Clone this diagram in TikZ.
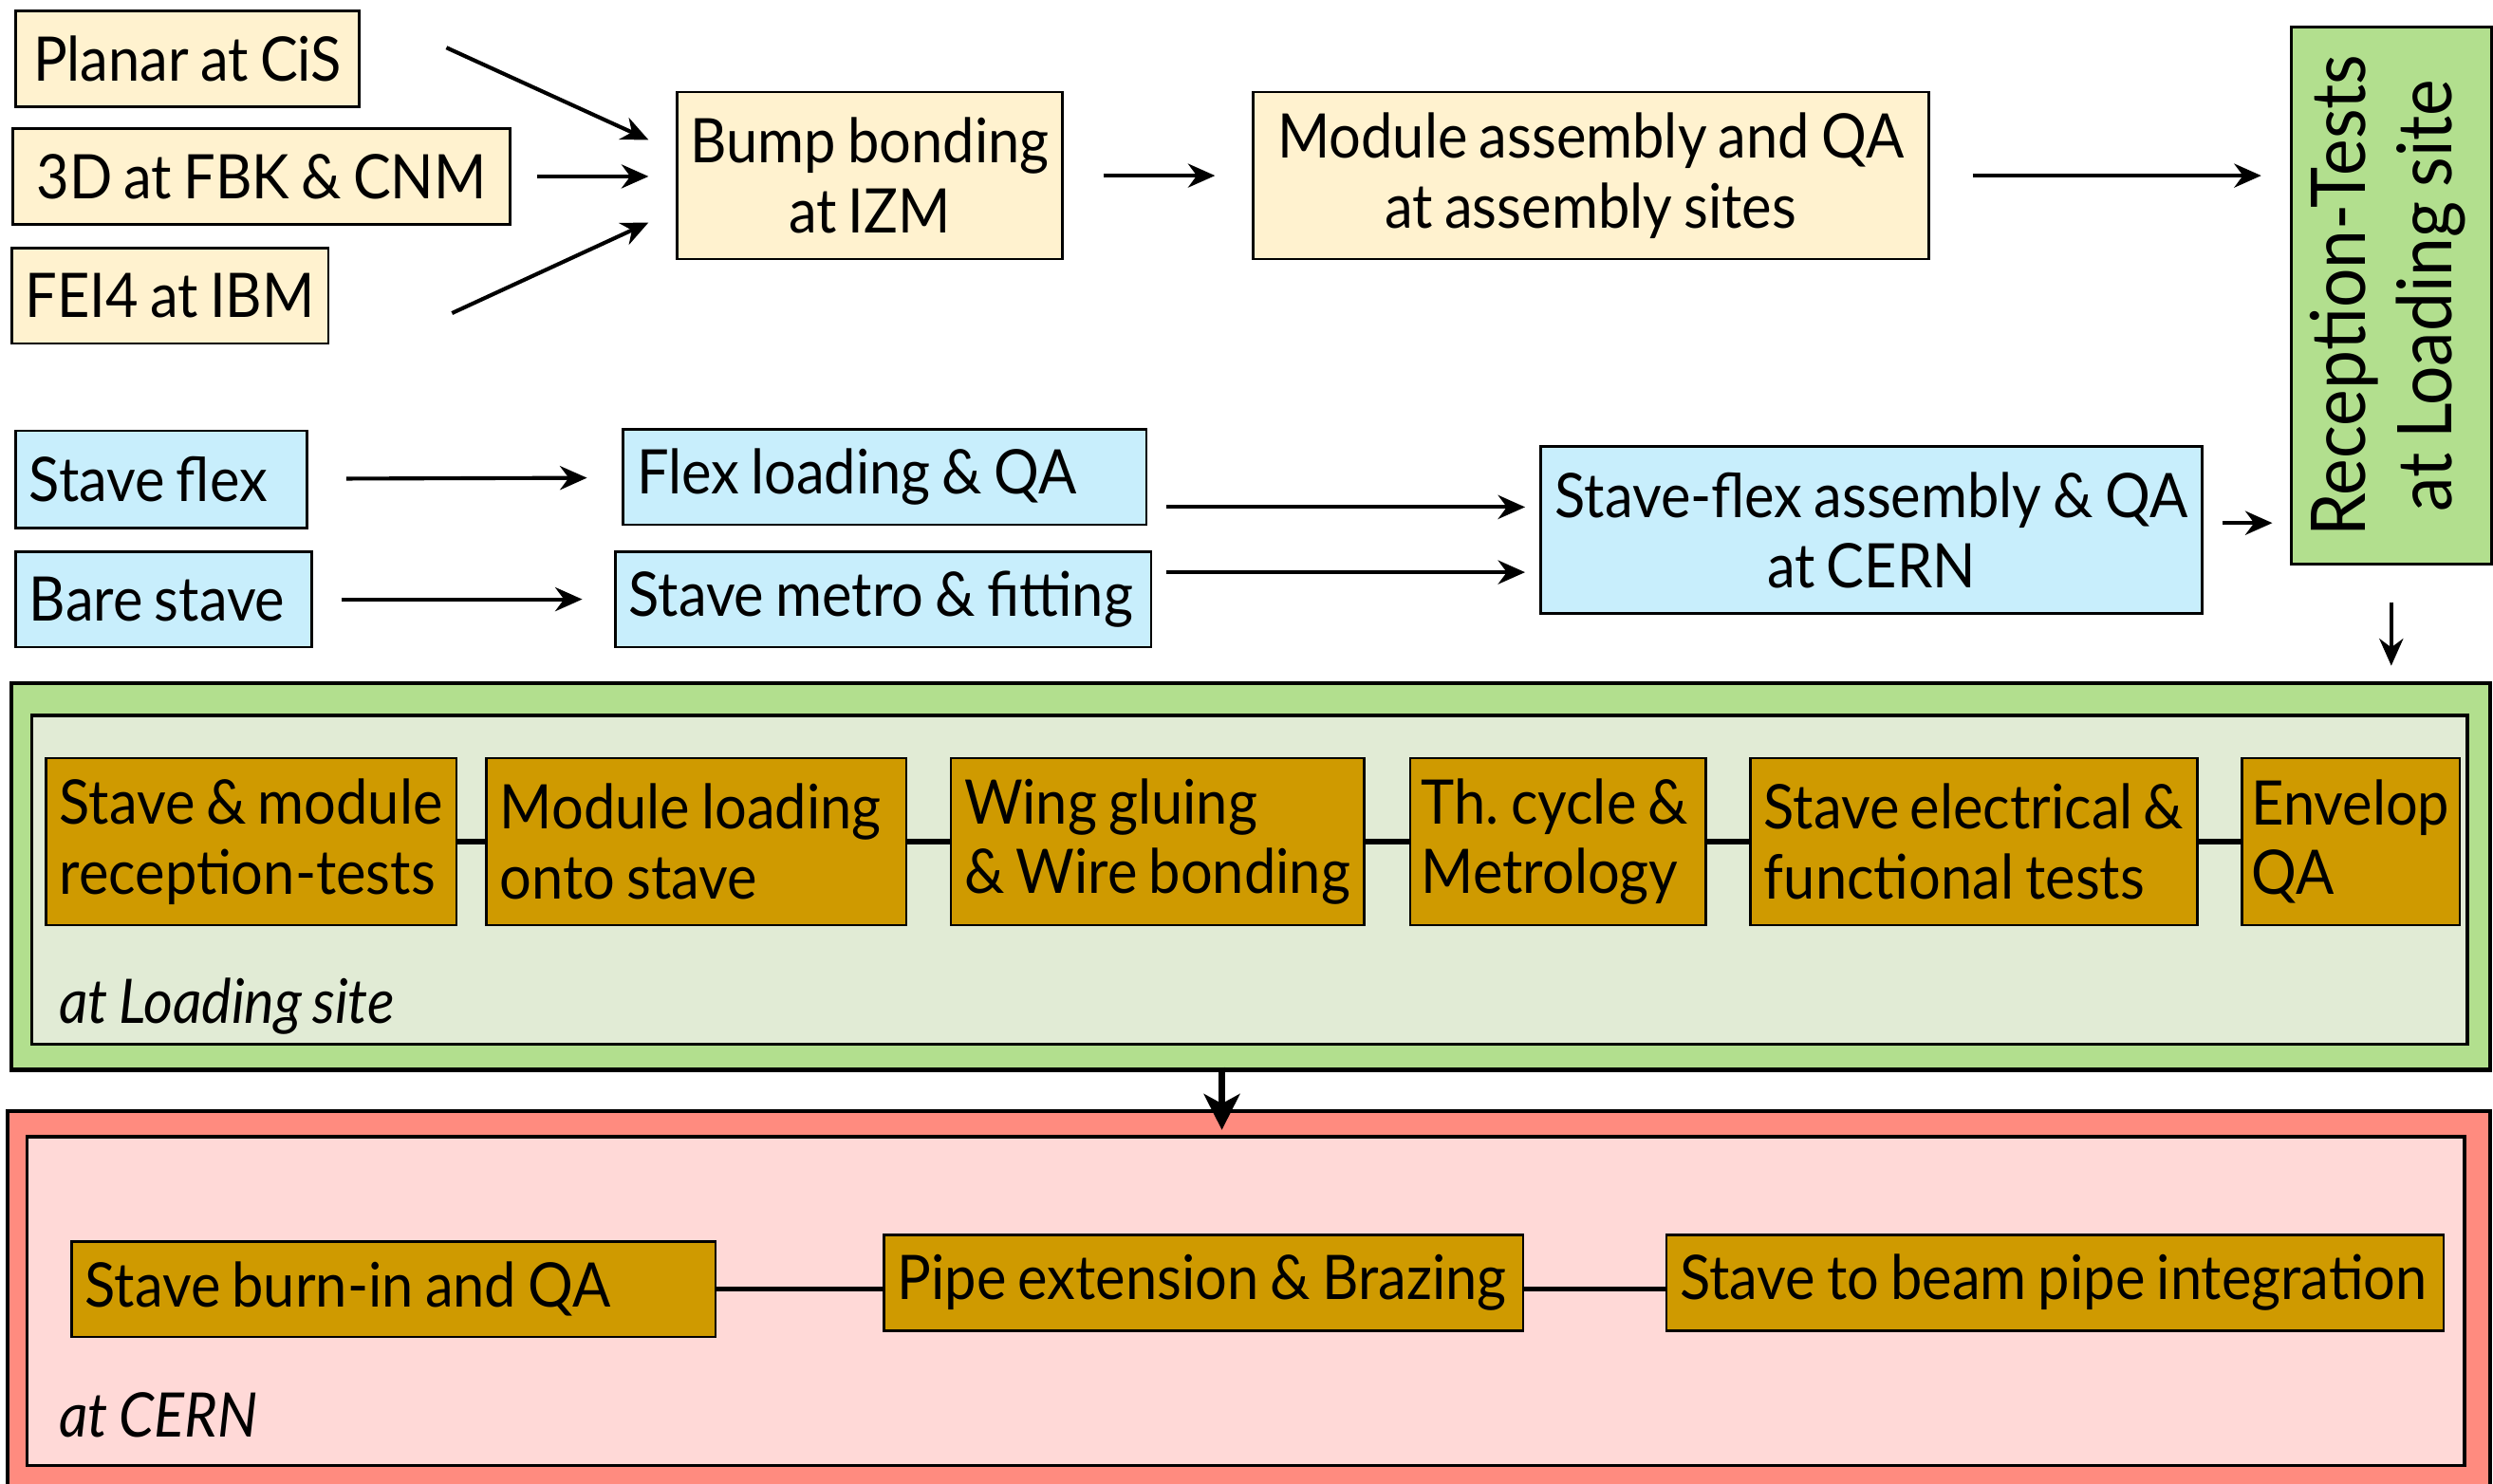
\documentclass[tikz,border=0pt]{standalone}
\usepackage{fontspec}
\setmainfont{Lato}[FakeStretch=0.92, WordSpace=0.8]
\usetikzlibrary{arrows.meta}

\definecolor{cream}{HTML}{FFF2CF}
\definecolor{skyblue}{HTML}{C8EEFC}
\definecolor{leafgreen}{HTML}{B2DF8E}
\definecolor{palegreen}{HTML}{E1EBD5}
\definecolor{gold}{HTML}{CF9A00}
\definecolor{salmon}{HTML}{FF8B7F}
\definecolor{palepink}{HTML}{FFD9D7}
\newcommand{\boxfont}{\fontsize{22}{25}\selectfont\hyphenpenalty=10000\relax\exhyphenpenalty=10000\relax}

\begin{document}
\begin{tikzpicture}[
    box/.style={draw, line width=0.9pt, inner xsep=0.17cm, inner ysep=0.08cm, font=\boxfont},
    leftbox/.style={box, align=flush left},
    midbox/.style={box, align=center},
    frame/.style={draw, line width=1.4pt},
    arr/.style={-{Stealth[length=0.34cm,width=0.3cm,inset=0.11cm]}, line width=1.4pt},
    bigarr/.style={-{Stealth[length=0.45cm,width=0.45cm,inset=0.12cm]}, line width=2.6pt},
    link/.style={line width=2.2pt}
]
    \useasboundingbox (0,0) rectangle (31.36,18.66);
    % Sensors, bump bonding, module assembly
    \node[midbox, fill=cream, minimum width=4.32cm, minimum height=1.2cm] (planar) at (2.36,17.92) {Planar at CiS};
    \node[midbox, fill=cream, minimum width=6.26cm, minimum height=1.2cm] (threed) at (3.29,16.44) {3D at FBK \& CNM};
    \node[midbox, fill=cream, minimum width=3.88cm, minimum height=1.2cm] (fei) at (2.14,14.94) {FEI4 at IBM};
    \node[midbox, fill=cream, minimum width=4.8cm, minimum height=2.1cm] (bump) at (10.94,16.45) {Bump bonding\\at IZM};
    \node[midbox, fill=cream, minimum width=8.5cm, minimum height=2.1cm] (module) at (20.01,16.45) {Module assembly and QA\\at assembly sites};
    \node[box, fill=leafgreen, minimum width=2.52cm, minimum height=6.76cm, font=\fontsize{27}{31}\selectfont] (recep) at (30.08,14.94)
        {\rotatebox{90}{\begin{tabular}{@{}c@{}}Reception-Tests\\at Loading site\end{tabular}}};
    % Stave preparation
    \node[leftbox, fill=skyblue, text width=3.32cm, minimum height=1.22cm] (flex) at (2.03,12.63) {Stave flex};
    \node[leftbox, fill=skyblue, text width=3.38cm, minimum height=1.2cm] (bare) at (2.06,11.12) {Bare stave};
    \node[leftbox, fill=skyblue, text width=6.24cm, minimum height=1.2cm] (floading) at (11.13,12.66) {Flex loading \& QA};
    \node[leftbox, fill=skyblue, text width=6.4cm, minimum height=1.2cm] (metro) at (11.11,11.12) {Stave metro \& fitting};
    \node[midbox, fill=skyblue, minimum width=8.32cm, minimum height=2.1cm] (sflex) at (23.54,11.99) {Stave-flex assembly \& QA\\at CERN};
    % Arrows, top part
    \draw[arr] ([shift={(1.08,0.14)}]planar.east) -- ([shift={(-0.34,0.45)}]bump.west);
    \draw[arr, shorten <=0.32cm, shorten >=0.34cm] (threed.east) -- (threed.east -| bump.west);
    \draw[arr] ([shift={(1.54,-0.22)}]fei.east) -- ([shift={(-0.34,-0.59)}]bump.west);
    \draw[arr, shorten <=0.5cm, shorten >=0.46cm] (bump) -- (module);
    \draw[arr, shorten <=0.54cm, shorten >=0.36cm] (module.east) -- (module.east -| recep.west);
    \draw[arr, shorten <=0.48cm, shorten >=0.44cm] (flex) -- (floading);
    \draw[arr, shorten <=0.36cm, shorten >=0.4cm] (bare) -- (metro);
    \draw[arr, shorten <=0.24cm, shorten >=0.18cm] ([yshift=-0.38cm]floading.east) -- ([yshift=-0.38cm]floading.east -| sflex.west);
    \draw[arr, shorten <=0.18cm, shorten >=0.18cm] ([yshift=0.34cm]metro.east) -- ([yshift=0.34cm]metro.east -| sflex.west);
    \draw[arr, shorten <=0.24cm, shorten >=0.22cm] ([yshift=0.09cm]sflex.east) -- ([yshift=0.09cm]sflex.east -| recep.west);
    % At loading site
    \node[frame, fill=leafgreen, minimum width=31.18cm, minimum height=4.86cm] (loadsite) at (15.73,7.63) {};
    \node[frame, fill=palegreen, line width=1.2pt, minimum width=30.64cm, minimum height=4.14cm] (loadinner) at (15.72,7.59) {};
    \draw[arr, shorten <=0.46cm, shorten >=0.2cm] (recep.south) -- (recep.south |- loadsite.north);
    \node[leftbox, fill=gold, text width=4.82cm, minimum height=2.1cm] (smrec) at (3.16,8.07) {Stave \& module\\reception-tests};
    \node[leftbox, fill=gold, text width=4.94cm, minimum height=2.1cm] (mload) at (8.76,8.07) {Module loading\\onto stave};
    \node[leftbox, fill=gold, text width=4.86cm, minimum height=2.1cm] (wing) at (14.56,8.07) {Wing gluing\\\& Wire bonding};
    \node[leftbox, fill=gold, inner xsep=0.14cm, text width=3.44cm, minimum height=2.1cm] (thcycle) at (19.6,8.07) {Th.\ cycle \&\\Metrology};
    \node[leftbox, fill=gold, text width=5.28cm, minimum height=2.1cm] (elec) at (24.83,8.07) {Stave electrical \&\\functional tests};
    \node[leftbox, fill=gold, inner xsep=0.12cm, text width=2.5cm, minimum height=2.1cm] (envelop) at (29.57,8.07) {Envelop\\QA};
    \draw[link] (smrec) -- (mload);
    \draw[link] (mload) -- (wing);
    \draw[link] (wing) -- (thcycle);
    \draw[link] (thcycle) -- (elec);
    \draw[link] (elec) -- (envelop);
    \node[right, font=\fontsize{22}{25}\selectfont\itshape] (loadlabel) at (0.62,6.0) {at Loading site};
    % At CERN
    \node[frame, fill=salmon, minimum width=31.22cm, minimum height=4.98cm] (cernsite) at (15.71,2.19) {};
    \node[frame, fill=palepink, line width=1.2pt, minimum width=30.66cm, minimum height=4.14cm] (cerninner) at (15.67,2.29) {};
    \coordinate (drop) at ([xshift=-0.36cm]loadsite.south);
    \draw[bigarr, shorten <=-0.06cm, shorten >=-0.26cm] (drop) -- (drop |- cernsite.north);
    \node[leftbox, fill=gold, text width=7.76cm, minimum height=1.2cm] (burnin) at (4.95,2.44) {Stave burn-in and QA};
    \node[leftbox, fill=gold, text width=7.7cm, minimum height=1.2cm] (pipe) at (15.14,2.52) {Pipe extension \& Brazing};
    \node[leftbox, fill=gold, text width=9.44cm, minimum height=1.2cm] (beam) at (25.85,2.52) {Stave to beam pipe integration};
    \draw[link, line width=1.8pt] (burnin) -- (burnin -| pipe.west);
    \draw[link, line width=1.8pt] (pipe.east |- burnin) -- (beam.west |- burnin);
    \node[right, font=\fontsize{22}{25}\selectfont\itshape] (cernlabel) at (0.62,0.86) {at CERN};
\end{tikzpicture}
\end{document}
